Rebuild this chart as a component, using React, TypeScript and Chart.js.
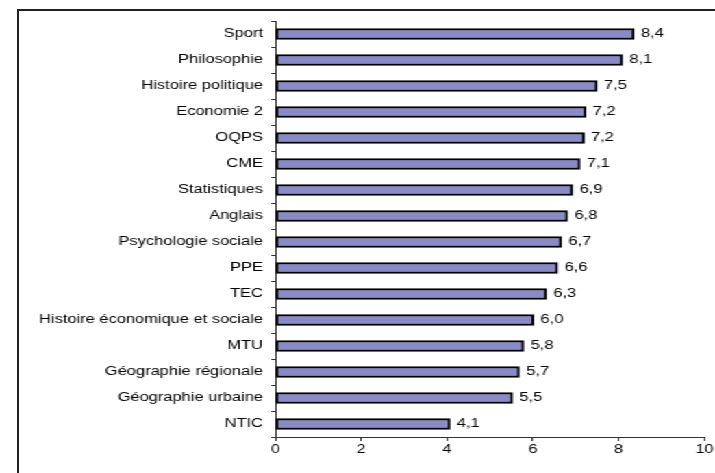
import React, { useEffect, useRef } from "react";
import { Chart, registerables } from "chart.js";

Chart.register(...registerables);

const categories = [
  "Sport",
  "Philosophie",
  "Histoire politique",
  "Economie 2",
  "OQPS",
  "CME",
  "Statistiques",
  "Anglais",
  "Psychologie sociale",
  "PPE",
  "TEC",
  "Histoire économique et sociale",
  "MTU",
  "Géographie régionale",
  "Géographie urbaine",
  "NTIC",
];

const values = [8.36, 8.09, 7.5, 7.24, 7.2, 7.1, 6.93, 6.81, 6.67, 6.58, 6.32, 6.02, 5.79, 5.69, 5.53, 4.07];

const valueLabels = ["8,4", "8,1", "7,5", "7,2", "7,2", "7,1", "6,9", "6,8", "6,7", "6,6", "6,3", "6,0", "5,8", "5,7", "5,5", "4,1"];

const xTickValues = [0, 2, 4, 6, 8, 10];

const PRE_W = 522;
const H = 473;
const STRETCH = 715 / PRE_W;
const FONT = "'Liberation Sans', Arial, sans-serif";

const valueLabelPlugin = {
  id: "valueLabels",
  afterDatasetsDraw(chart: any) {
    const ctx = chart.ctx;
    const meta = chart.getDatasetMeta(0);
    ctx.save();
    ctx.font = `12px ${FONT}`;
    ctx.fillStyle = "#000";
    ctx.textAlign = "left";
    ctx.textBaseline = "middle";
    meta.data.forEach((bar: any, i: number) => {
      ctx.fillText(valueLabels[i], bar.x + 5, bar.y);
    });
    ctx.restore();
  },
};

export default function App() {
  const canvasRef = useRef<HTMLCanvasElement | null>(null);

  useEffect(() => {
    if (!canvasRef.current) return;
    const chart = new Chart(canvasRef.current, {
      type: "bar",
      data: {
        labels: categories,
        datasets: [
          {
            data: values,
            backgroundColor: "#8A8AC6",
            borderColor: "#000",
            borderWidth: 2,
            borderSkipped: false,
            barThickness: 11,
          },
        ],
      },
      options: {
        indexAxis: "y",
        responsive: false,
        animation: false,
        devicePixelRatio: 1,
        layout: { padding: { top: 21, right: 6, bottom: 0, left: 0 } },
        plugins: {
          legend: { display: false },
          tooltip: { enabled: false },
          title: { display: false },
        },
        scales: {
          x: {
            type: "linear",
            min: 0,
            max: 10,
            afterBuildTicks: (scale: any) => {
              scale.ticks = xTickValues.map((v) => ({ value: v }));
            },
            afterFit: (scale: any) => {
              scale.height = 36;
            },
            grid: {
              drawOnChartArea: false,
              drawTicks: true,
              tickLength: 4,
              color: "#333",
            },
            border: { display: true, color: "#333", width: 1 },
            ticks: {
              color: "#000",
              font: { family: FONT, size: 12 },
              padding: 1,
              maxRotation: 0,
              callback: (v: any) => String(v),
            },
          },
          y: {
            type: "category",
            offset: true,
            afterFit: (scale: any) => {
              scale.width = 201;
            },
            grid: {
              offset: true,
              drawOnChartArea: false,
              drawTicks: true,
              tickLength: 3,
              color: "#333",
            },
            border: { display: true, color: "#333", width: 1 },
            ticks: {
              color: "#000",
              font: { family: FONT, size: 12 },
              padding: 6,
              autoSkip: false,
            },
          },
        },
      },
      plugins: [valueLabelPlugin],
    });
    return () => chart.destroy();
  }, []);

  return (
    <div>
      <div
        style={{
          position: "fixed",
          left: 0,
          top: 0,
          width: PRE_W,
          height: H,
          transform: `scaleX(${STRETCH})`,
          transformOrigin: "0 0",
          background: "#fff",
        }}
      >
        <canvas ref={canvasRef} width={PRE_W} height={H} style={{ display: "block" }} />
      </div>
      <div
        style={{
          position: "fixed",
          left: 17,
          top: 9,
          width: 800,
          height: 600,
          borderLeft: "2px solid #222",
          borderTop: "2px solid #222",
          pointerEvents: "none",
        }}
      />
    </div>
  );
}
